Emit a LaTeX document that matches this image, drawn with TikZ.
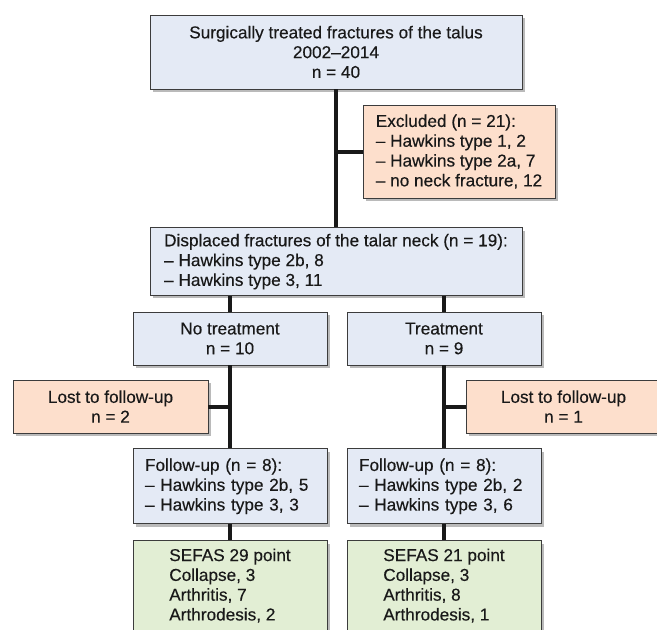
\documentclass[tikz,border=0pt]{standalone}
\usepackage{fontspec}
\setmainfont{Liberation Sans}
\newfontfamily\boxfont{Liberation Sans}[Ligatures=TeX, FakeBold=0.3]
\usetikzlibrary{positioning, shadows}
\definecolor{boxblue}{HTML}{E4EAF5}
\definecolor{boxorange}{HTML}{FDDFCC}
\definecolor{boxgreen}{HTML}{E2EED4}
\definecolor{boxline}{HTML}{3C3C3C}

\begin{document}
\begin{tikzpicture}[
        x=1pt, y=-1pt,
        box/.style={rectangle, draw=boxline, line width=0.8pt, text=black!90, inner ysep=6pt, align=center, font=\boxfont\fontsize{17.2}{19.8}\selectfont, drop shadow={shadow xshift=3pt, shadow yshift=-3pt, fill=black!60, opacity=0.45}},
        bluebox/.style={box, fill=boxblue},
        orangebox/.style={box, fill=boxorange},
        greenbox/.style={box, fill=boxgreen, minimum width=194pt, align=left, inner ysep=8pt},
        link/.style={line width=4pt, draw=black!90}
    ]
        \useasboundingbox (0,0) rectangle (657,630);

        \node[bluebox, minimum width=372pt, minimum height=74pt] (total) at (336,52) {Surgically treated fractures of the talus\\2002–2014\\n = 40};
        \node[orangebox, minimum width=192pt, minimum height=93pt, align=left] (excluded) at (459,151.5) {Excluded (n = 21):\\– Hawkins type 1, 2\\– Hawkins type 2a, 7\\– no neck fracture, 12};
        \node[bluebox, minimum width=372pt, minimum height=67pt, align=left, below=138pt of total] (displaced) {Displaced fractures of the talar neck (n = 19):\\– Hawkins type 2b, 8\\– Hawkins type 3, 11};

        \node[bluebox, minimum width=194pt, minimum height=53pt] (notreat) at (230,338.5) {No treatment\\n = 10};
        \node[bluebox, minimum width=194pt, minimum height=53pt] (treat) at (444,338.5) {Treatment\\n = 9};

        \node[orangebox, minimum width=195pt, minimum height=53pt] (lostnotreat) at (110.5,406.5) {Lost to follow-up\\n = 2};
        \node[orangebox, minimum width=195pt, minimum height=53pt] (losttreat) at (563.5,406.5) {Lost to follow-up\\n = 1};

        \node[bluebox, text width=170pt, inner xsep=12pt, minimum height=75pt, align=left, below=83pt of notreat] (fupnotreat) {Follow-up (n = 8):\\– Hawkins type 2b, 5\\– Hawkins type 3, 3};
        \node[bluebox, text width=170pt, inner xsep=12pt, minimum height=75pt, align=left, below=83pt of treat] (fuptreat) {Follow-up (n = 8):\\– Hawkins type 2b, 2\\– Hawkins type 3, 6};

        \node[greenbox, below=16pt of fupnotreat] (outnotreat) {SEFAS 29 point\\Collapse, 3\\Arthritis, 7\\Arthrodesis, 2};
        \node[greenbox, below=16pt of fuptreat] (outtreat) {SEFAS 21 point\\Collapse, 3\\Arthritis, 8\\Arthrodesis, 1};

        \draw[link] (total) -- (displaced);
        \draw[link] (excluded.west -| total.south) -- (excluded.west);
        \draw[link] (displaced.south -| notreat.north) -- (notreat.north);
        \draw[link] (displaced.south -| treat.north) -- (treat.north);
        \draw[link] (notreat) -- (fupnotreat);
        \draw[link] (treat) -- (fuptreat);
        \draw[link] (lostnotreat.east) -- (lostnotreat.east -| notreat.south);
        \draw[link] (losttreat.west) -- (losttreat.west -| treat.south);
        \draw[link] (fupnotreat) -- (outnotreat);
        \draw[link] (fuptreat) -- (outtreat);
    \end{tikzpicture}
\end{document}
